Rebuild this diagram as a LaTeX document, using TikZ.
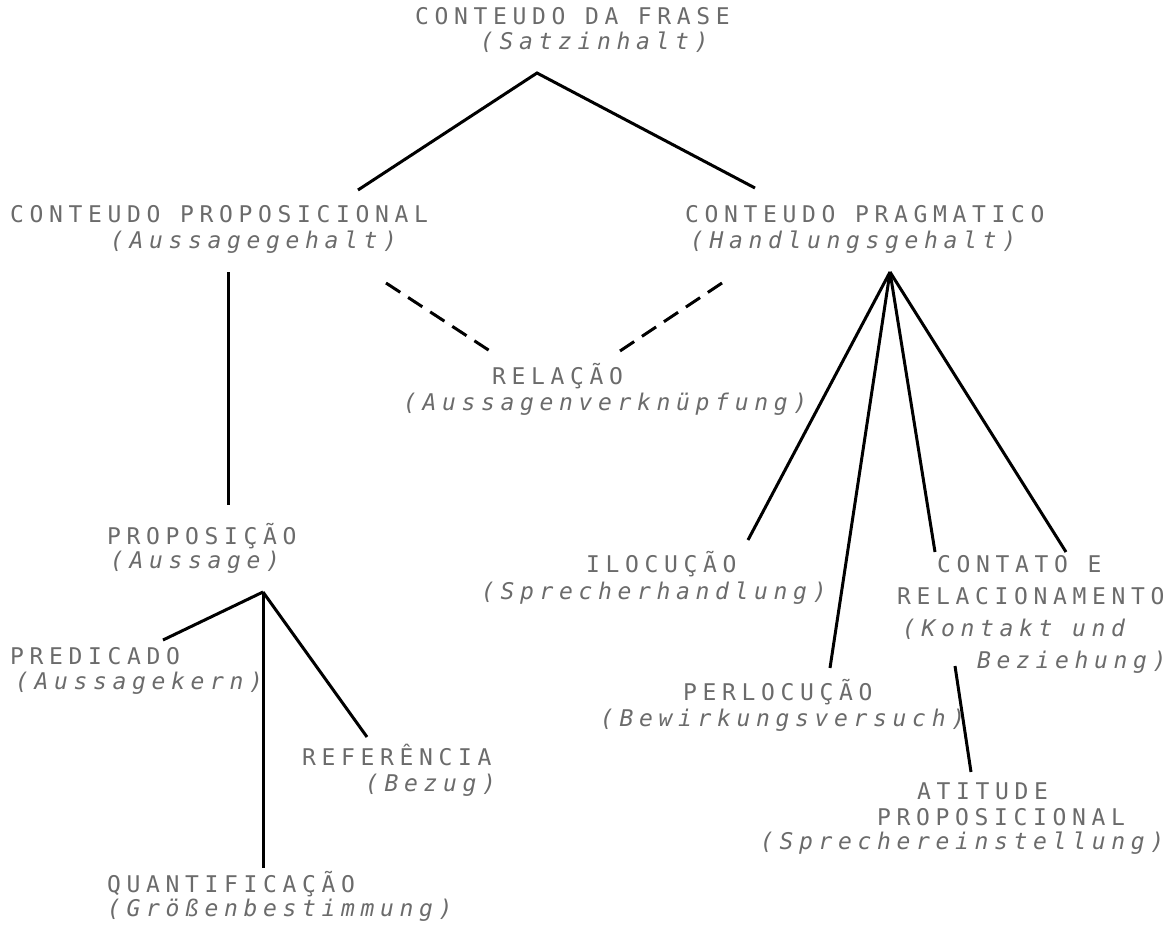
\documentclass[tikz,border=0pt]{standalone}
\usepackage{fontspec}
\newfontfamily\dm[LetterSpace=24.6]{DejaVu Sans Mono}
\begin{document}
\begin{tikzpicture}[x=1pt,y=-1pt,
  lbl/.style={anchor=base west, inner sep=0pt, text=black!58, font=\dm\fontsize{23}{26}\selectfont},
  ital/.style={lbl, font=\dm\fontsize{23}{26}\selectfont\itshape},
  edge/.style={line width=3pt, black},
  dashedge/.style={edge, dash pattern=on 17pt off 9.4pt}]
\useasboundingbox (0,0) rectangle (1175,932);

% labels
\node[lbl]  (frase1) at (415,24) {CONTEUDO DA FRASE};
\node[ital] (frase2) at (480,49) {(Satzinhalt)};
\node[lbl]  (prop1) at (10,222) {CONTEUDO PROPOSICIONAL};
\node[ital] (prop2) at (110,248) {(Aussagegehalt)};
\node[lbl]  (prag1) at (685,222) {CONTEUDO PRAGMATICO};
\node[ital] (prag2) at (690,248) {(Handlungsgehalt)};
\node[lbl]  (rel1) at (492,384) {RELAÇÃO};
\node[ital] (rel2) at (403,410) {(Aussagenverknüpfung)};
\node[lbl]  (pos1) at (107,544) {PROPOSIÇÃO};
\node[ital] (pos2) at (110,568) {(Aussage)};
\node[lbl]  (pred1) at (10,664) {PREDICADO};
\node[ital] (pred2) at (15,689) {(Aussagekern)};
\node[lbl]  (ref1) at (302,765) {REFERÊNCIA};
\node[ital] (ref2) at (365,791) {(Bezug)};
\node[lbl]  (quant1) at (107,892) {QUANTIFICAÇÃO};
\node[ital] (quant2) at (107,916) {(Größenbestimmung)};
\node[lbl]  (ilo1) at (586,572) {ILOCUÇÃO};
\node[ital] (ilo2) at (481,599) {(Sprecherhandlung)};
\node[lbl]  (per1) at (683,700) {PERLOCUÇÃO};
\node[ital] (per2) at (600,726) {(Bewirkungsversuch)};
\node[lbl]  (con1) at (937,572) {CONTATO E};
\node[lbl]  (con2) at (897,604) {RELACIONAMENTO};
\node[ital] (con3) at (902,636) {(Kontakt und};
\node[ital] (con4) at (977,668) {Beziehung)};
\node[lbl]  (ati1) at (917,799) {ATITUDE};
\node[lbl]  (ati2) at (877,825) {PROPOSICIONAL};
\node[ital] (ati3) at (760,849) {(Sprechereinstellung)};

% connector end points
\coordinate (fraseTop) at (537,73);
\coordinate (propIn) at (358,190);
\coordinate (pragIn) at (755,188);
\coordinate (propOut) at (228,272);
\coordinate (posIn) at (228,505);
\coordinate (propDash) at (386,283);
\coordinate (relL) at (490,351);
\coordinate (pragDash) at (722,283);
\coordinate (relR) at (620,351);
\coordinate (pragOut) at (890,272);
\coordinate (iloIn) at (748,540);
\coordinate (perIn) at (830,668);
\coordinate (conInL) at (935,552);
\coordinate (conInR) at (1066,552);
\coordinate (conOut) at (955,666);
\coordinate (atiIn) at (971,772);
\coordinate (posOut) at (263,592);
\coordinate (predIn) at (163,640);
\coordinate (refIn) at (367,737);
\coordinate (quantIn) at (263,868);

% connectors
\draw[edge] (propIn) -- (fraseTop) -- (pragIn);
\draw[edge] (propOut) -- (posIn);
\draw[dashedge] (propDash) -- (relL);
\draw[dashedge] (pragDash) -- (relR);
\draw[edge] (pragOut) -- (iloIn);
\draw[edge] (pragOut) -- (perIn);
\draw[edge] (pragOut) -- (conInL);
\draw[edge] (pragOut) -- (conInR);
\draw[edge] (conOut) -- (atiIn);
\draw[edge] (posOut) -- (predIn);
\draw[edge] (posOut) -- (refIn);
\draw[edge] (posOut) -- (quantIn);
\end{tikzpicture}
\end{document}
